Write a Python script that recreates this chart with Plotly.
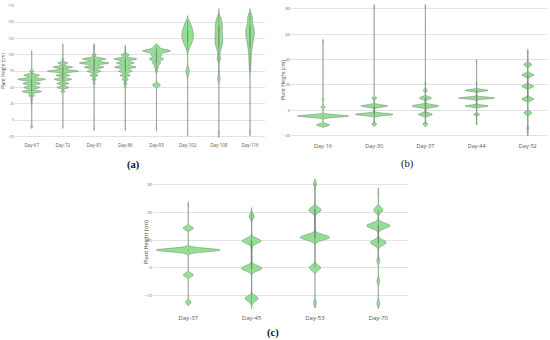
import plotly.graph_objects as go

# ---------------- Panel (a) ----------------
a_days = ["Day-67", "Day-72", "Day-81", "Day-86", "Day-93", "Day-102", "Day-108", "Day-116"]
a_yticks = [-25, 0, 25, 50, 75, 100, 125, 150, 175]
a_d67_height = [103.5, 74.9, 68.6, 62.4, 56.1, 49.9, 43.6, 37.4, 31.2, 25.0, -10.0]
a_d67_count = [1, 6, 24, 43, 27, 24, 30, 9, 3, 2, 3]
a_d72_height = [114.0, 93.6, 87.4, 81.1, 74.9, 68.6, 62.4, 56.1, 49.9, 43.6, -10.0]
a_d72_count = [1, 3, 15, 30, 48, 21, 27, 18, 18, 6, 1]
a_d81_height = [114.0, 99.9, 93.6, 87.4, 81.1, 74.9, 68.6, 62.4, 56.1, 2.0, -13.0]
a_d81_count = [2, 6, 36, 45, 30, 21, 12, 6, 3, 1, 1]
a_d86_height = [111.5, 99.9, 93.6, 87.4, 81.1, 74.9, 68.6, 62.4, 56.1, 49.9, -13.0]
a_d86_count = [1, 12, 35, 27, 33, 21, 15, 9, 5, 2, 1]
a_d93_height = [112.4, 106.1, 99.9, 93.6, 87.4, 81.1, 74.9, 53.7, -12.6]
a_d93_count = [9, 42, 15, 21, 12, 6, 3, 12, 1]
a_d102_height = [153.0, 149.9, 143.6, 137.4, 131.1, 124.9, 118.6, 112.4, 106.1, 81.1, 74.9, 68.6, -17.5]
a_d102_count = [1, 9, 15, 20, 23, 21, 17, 9, 3, 3, 8, 3, 1]
a_d108_height = [164.0, 156.1, 149.9, 143.6, 137.4, 131.1, 124.9, 118.6, 112.4, 106.1, 99.9, 93.6, 68.6, 62.4, -20.0]
a_d108_count = [1, 9, 12, 14, 13, 14, 15, 15, 11, 6, 3, 8, 2, 6, 3]
a_d116_height = [164.0, 162.4, 156.1, 149.9, 143.6, 137.4, 131.1, 124.9, 118.6, 112.4, 106.1, 99.9, 93.6, 87.4, 81.1, 74.9, -17.5]
a_d116_count = [1, 5, 11, 9, 14, 18, 18, 15, 12, 9, 7, 5, 5, 4, 3, 2, 3]
a_bandwidth = [1.54, 1.41, 1.62, 1.64, 2.17, 3.5, 3.5, 3.5]

# ---------------- Panel (b) ----------------
b_days = ["Day-16", "Day-30", "Day-37", "Day-44", "Day-52"]
b_yticks = [-20, 0, 20, 40, 60, 80]
b_d16_height = [54.0, 8.6, 2.6, -4.5, -11.5]
b_d16_count = [1, 2, 4, 51, 13]
b_d30_height = [81.5, 9.7, 3.4, -3.2, -10.9]
b_d30_count = [1, 5, 27, 38, 5]
b_d37_height = [81.5, 21.6, 15.7, 9.7, 3.4, -3.2, -10.9]
b_d37_count = [1, 1, 4, 12, 27, 14, 5]
b_d44_height = [38.5, 21.6, 15.7, 9.7, 3.4, -3.2, -10.2]
b_d44_count = [1, 1, 23, 36, 23, 6, 1]
b_d52_height = [46.0, 36.0, 27.8, 18.9, 8.9, -2.0, -14.0, -18.0]
b_d52_count = [1, 8, 12, 12, 12, 8, 2, 1]
b_bandwidth = [0.9, 0.86, 1.02, 0.71, 1.17]

# ---------------- Panel (c) ----------------
c_days = ["Day-37", "Day-45", "Day-53", "Day-70"]
c_yticks = [-10, 0, 10, 20, 30]
c_d37_height = [22.7, 14.3, 6.4, -2.6, -12.5]
c_d37_count = [1, 11, 69, 11, 6]
c_d45_height = [20.0, 18.5, 9.7, 6.5, 3.5, -0.2, -11.1, -13.0]
c_d45_count = [1, 5, 20, 1, 1, 22, 14, 1]
c_d53_height = [30.3, 20.9, 11.0, 0.0, -12.7]
c_d53_count = [3, 13, 31, 12, 3]
c_d70_height = [27.0, 20.9, 15.2, 9.1, 2.5, -4.8, -12.9]
c_d70_count = [1, 10, 25, 17, 3, 3, 3]
c_bandwidth = [0.6, 0.9, 0.93, 0.95]

FILL = "#93e093"
OUTLINE = "rgba(110,128,110,0.85)"
GRID = "#e2e2e2"
FONT = "Open Sans"

fig = go.Figure()


def add_panel(days, heights, counts, bws, xa, ya, group):
    for day, hs, cs, bw in zip(days, heights, counts, bws):
        ys = [h for h, c in zip(hs, cs) for _ in range(c)]
        fig.add_trace(go.Violin(
            x=[day] * len(ys), y=ys, xaxis=xa, yaxis=ya,
            name=group, scalegroup=group, scalemode="width",
            bandwidth=bw, spanmode="soft", points=False,
            fillcolor=FILL, line=dict(color=OUTLINE, width=0.6),
            box=dict(visible=True, width=0.01, fillcolor="#8a8a8a",
                     line=dict(color="#7a7a7a", width=0.6)),
            showlegend=False, hoverinfo="skip"))


add_panel(a_days,
          [a_d67_height, a_d72_height, a_d81_height, a_d86_height, a_d93_height,
           a_d102_height, a_d108_height, a_d116_height],
          [a_d67_count, a_d72_count, a_d81_count, a_d86_count, a_d93_count,
           a_d102_count, a_d108_count, a_d116_count],
          a_bandwidth, "x", "y", "a")
add_panel(b_days,
          [b_d16_height, b_d30_height, b_d37_height, b_d44_height, b_d52_height],
          [b_d16_count, b_d30_count, b_d37_count, b_d44_count, b_d52_count],
          b_bandwidth, "x2", "y2", "b")
add_panel(c_days,
          [c_d37_height, c_d45_height, c_d53_height, c_d70_height],
          [c_d37_count, c_d45_count, c_d53_count, c_d70_count],
          c_bandwidth, "x3", "y3", "c")


def xax(domain, anchor, cats, rng, size):
    return dict(domain=domain, anchor=anchor, type="category", categoryorder="array",
                categoryarray=cats, range=rng, showgrid=False, zeroline=False,
                showline=False, ticks="", automargin=False, ticklabelstandoff=3,
                tickfont=dict(family=FONT, size=size, color="#555"))


def yax(domain, anchor, ticks, rng, size):
    return dict(domain=domain, anchor=anchor, range=rng, tickvals=ticks, showgrid=True,
                gridcolor=GRID, gridwidth=0.8, zeroline=False, showline=False, ticks="",
                automargin=False, tickfont=dict(family=FONT, size=size, color="#666"))


fig.update_layout(
    width=550, height=340, margin=dict(l=0, r=0, t=0, b=0, autoexpand=False),
    paper_bgcolor="white", plot_bgcolor="white",
    violinmode="overlay", violingap=0, violingroupgap=0,
    xaxis=xax([15 / 550, 265 / 550], "y", a_days, [-0.535, 7.48], 4.5),
    yaxis=yax([1 - 138 / 340, 1 - 5 / 340], "x", a_yticks, [-27.6, 176.4], 3.5),
    xaxis2=xax([291 / 550, 547 / 550], "y2", b_days, [-0.625, 4.375], 5.5),
    yaxis2=yax([1 - 138 / 340, 1 - 4 / 340], "x2", b_yticks, [-21.8, 83.7], 4),
    xaxis3=xax([153 / 550, 408 / 550], "y3", c_days, [-0.557, 3.469], 6),
    yaxis3=yax([1 - 310 / 340, 1 - 176 / 340], "x3", c_yticks, [-15.3, 33.2], 4.2),
)

ann = []
for x, y, s in [(3, 71, 4.5), (283, 80, 5), (146, 242, 5.5)]:
    ann.append(dict(text="Plant Height (cm)", x=x / 550, y=1 - y / 340, xref="paper",
                    yref="paper", xanchor="center", yanchor="middle",
                    showarrow=False, textangle=-90,
                    font=dict(family=FONT, size=s, color="#444")))
for x, y, t in [(133, 165, "<b>(a)</b>"), (407, 164, "(b)"), (273, 333, "<b>(c)</b>")]:
    ann.append(dict(text=t, x=x / 550, y=1 - y / 340, xref="paper", yref="paper",
                    xanchor="center", yanchor="middle", showarrow=False,
                    font=dict(family="Liberation Serif", size=10.5, color="#111")))
fig.update_layout(annotations=ann)

fig.write_html(
    "out.html",
    config={"displayModeBar": False},
    post_script="document.body.style.margin='0';document.body.style.padding='0';"
                "document.body.style.overflow='hidden';",
)
